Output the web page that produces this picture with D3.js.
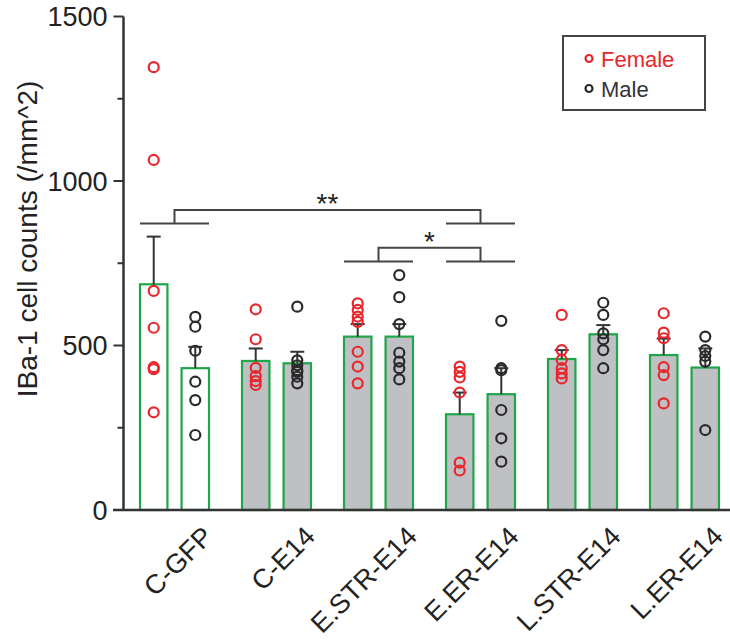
<!DOCTYPE html>
<html><head><meta charset="utf-8">
<script src="https://cdn.jsdelivr.net/npm/d3@7"></script>
<style>body{margin:0;background:#fff}svg{display:block}text{font-family:"Liberation Sans",Arial,sans-serif}</style>
</head><body><svg id="c" width="730" height="642"></svg>
<script>
const groups = ["C-GFP","C-E14","E.STR-E14","E.ER-E14","L.STR-E14","L.ER-E14"];
const sexes = ["Female","Male"];
const femaleMean = [686, 453, 527, 291, 459, 471];
const femaleSEM  = [145, 38, 38, 66, 27, 50];
const maleMean   = [431, 446, 527, 352, 534, 433];
const maleSEM    = [65, 35, 38, 79, 28, 58];
const femalePts = [
  [1346,1064,666,554,434,428,297],
  [610,519,432,407,392,380],
  [628,608,588,572,481,436,385],
  [436,420,403,357,144,120],
  [593,486,456,431,415,400],
  [598,539,522,434,410,324]
];
const malePts = [
  [587,557,484,390,334,228],
  [618,455,440,425,420,405,385],
  [714,647,565,478,451,431,397],
  [575,431,425,304,218,147],
  [630,593,537,519,486,431],
  [527,486,468,451,243]
];
const yTicks = [0, 500, 1000, 1500];
const yMinorTicks = [250, 750, 1250];
const compPairs = [["C-GFP","E.ER-E14"],["E.STR-E14","E.ER-E14"]];
const compTop  = [912, 797];
const compBase = [871, 755];
const compLabel = ["**","*"];

const RED = "#e8262b", BLK = "#2a2a2a", GREEN = "#1fa64a", GREY = "#bfc0c4", AX = "#333";
const svg = d3.select("#c");
const y = d3.scaleLinear().domain([0,1500]).range([510,16.5]);
const x0 = d3.scaleBand().domain(groups).range([123.5,735.5]).padding(0);
const x1 = d3.scaleBand().domain(sexes).range([16.5,85.5]).paddingInner(0.34).paddingOuter(0);
const color = d3.scaleOrdinal().domain(sexes).range([RED, BLK]);

const rows = [];
groups.forEach((g,i)=>{
  rows.push({g, s:"Female", mean:femaleMean[i], sem:femaleSEM[i], pts:femalePts[i]});
  rows.push({g, s:"Male", mean:maleMean[i], sem:maleSEM[i], pts:malePts[i]});
});
const cx = d => x0(d.g) + x1(d.s) + x1.bandwidth()/2;

// bars
svg.append("g").selectAll("rect").data(rows).join("rect")
  .attr("x", d=>x0(d.g)+x1(d.s)).attr("width", x1.bandwidth())
  .attr("y", d=>y(d.mean)).attr("height", d=>y(0)-y(d.mean))
  .attr("fill", d=>d.g==="C-GFP" ? "#fff" : GREY)
  .attr("stroke", GREEN).attr("stroke-width", 2.2);

// error bars
const eb = svg.append("g").attr("stroke", AX).attr("stroke-width", 2);
eb.selectAll("line.v").data(rows).join("line").attr("class","v")
  .attr("x1", cx).attr("x2", cx).attr("y1", d=>y(d.mean)).attr("y2", d=>y(d.mean+d.sem));
eb.selectAll("line.c").data(rows).join("line").attr("class","c")
  .attr("x1", d=>cx(d)-7).attr("x2", d=>cx(d)+7).attr("y1", d=>y(d.mean+d.sem)).attr("y2", d=>y(d.mean+d.sem));

// points
const pts = rows.flatMap(d=>d.pts.map(v=>({g:d.g, s:d.s, v})));
svg.append("g").selectAll("circle").data(pts).join("circle")
  .attr("cx", cx).attr("cy", d=>y(d.v)).attr("r", 5)
  .attr("fill","none").attr("stroke", d=>color(d.s)).attr("stroke-width", 2.2);

// axes
const yAxis = svg.append("g").attr("transform","translate(123.5,0)");
yAxis.append("line").attr("y1", y(1500)).attr("y2", y(0)+1).attr("stroke", AX).attr("stroke-width", 2.5);
yAxis.selectAll("line.t").data(yTicks).join("line").attr("class","t")
  .attr("x1",-10).attr("x2",0).attr("y1",d=>y(d)).attr("y2",d=>y(d)).attr("stroke",AX).attr("stroke-width",2);
yAxis.selectAll("line.m").data(yMinorTicks).join("line").attr("class","m")
  .attr("x1",-6).attr("x2",0).attr("y1",d=>y(d)).attr("y2",d=>y(d)).attr("stroke",AX).attr("stroke-width",2);
yAxis.selectAll("text").data(yTicks).join("text")
  .attr("x",-16).attr("y",d=>y(d)).attr("dy","0.36em").attr("text-anchor","end")
  .attr("font-size",27).attr("fill","#222").text(d=>d);
svg.append("line").attr("x1",113).attr("x2",730).attr("y1",y(0)).attr("y2",y(0)).attr("stroke",AX).attr("stroke-width",2.5);

svg.append("text").attr("transform",`translate(37,239) rotate(-90)`).attr("text-anchor","middle")
  .attr("font-size",28).attr("fill","#222").text("IBa-1 cell counts (/mm^2)");

// x labels
svg.append("g").selectAll("text").data(groups).join("text")
  .attr("transform", g=>`translate(${x0(g)+x0.bandwidth()/2+40},538) rotate(-45)`)
  .attr("text-anchor","end").attr("font-size",27).attr("fill","#222").text(g=>g);

// significance brackets
const br = svg.append("g").attr("stroke","#444").attr("stroke-width",2).attr("fill","none");
compPairs.forEach((p,i)=>{
  const a = x0(p[0])+x0.bandwidth()/2, b = x0(p[1])+x0.bandwidth()/2;
  const yt = y(compTop[i]), yb = y(compBase[i]);
  br.append("path").attr("d", `M${a},${yb}V${yt}H${b}V${yb}`);
  p.forEach(g=>{
    br.append("line").attr("x1", x0(g)+x1("Female")).attr("x2", x0(g)+x1("Male")+x1.bandwidth())
      .attr("y1", yb).attr("y2", yb);
  });
  svg.append("text").attr("x",(a+b)/2).attr("y", yt+3).attr("text-anchor","middle")
    .attr("font-size",28).attr("fill","#222").text(compLabel[i]);
});

// legend
const lg = svg.append("g");
lg.append("rect").attr("x",563).attr("y",36).attr("width",142).attr("height",74)
  .attr("fill","#fff").attr("stroke","#444").attr("stroke-width",2);
sexes.forEach((s,i)=>{
  lg.append("circle").attr("cx",589).attr("cy",58.5+i*30).attr("r",3.5)
    .attr("fill","none").attr("stroke",color(s)).attr("stroke-width",2.2);
  lg.append("text").attr("x",601).attr("y",67+i*30).attr("font-size",22)
    .attr("fill", i===0?RED:"#333").text(s);
});
</script></body></html>
